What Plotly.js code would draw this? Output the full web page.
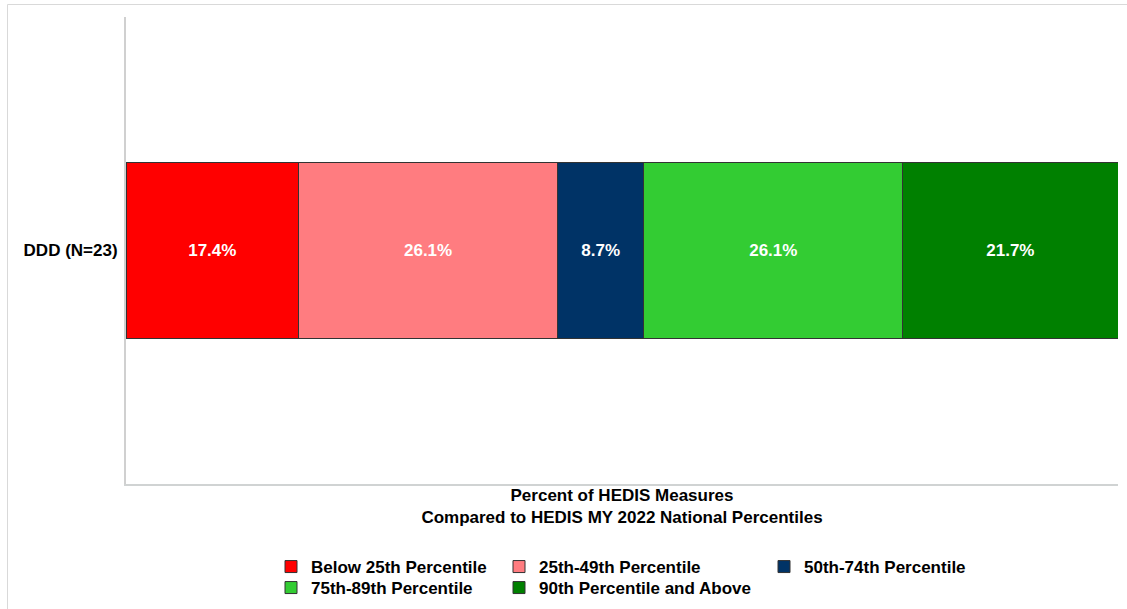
<!DOCTYPE html>
<html>
<head>
<meta charset="utf-8">
<script src="https://cdn.plot.ly/plotly-3.0.1.min.js"></script>
<style>
  html, body { margin: 0; padding: 0; background: #ffffff; }
  #chart { width: 1127px; height: 609px; }
</style>
</head>
<body>
<div id="chart"></div>
<script>
// ---- data ----
const categories = ['DDD (N=23)'];
const seriesNames = [
  'Below 25th Percentile',
  '25th-49th Percentile',
  '50th-74th Percentile',
  '75th-89th Percentile',
  '90th Percentile and Above'
];
const seriesValues = [17.4, 26.1, 8.7, 26.1, 21.7];
const seriesColors = ['#FF0000', '#FF7C80', '#003366', '#33CC33', '#008000'];
const axisTitle = 'Percent of HEDIS Measures<br>Compared to HEDIS MY 2022 National Percentiles';

// ---- layout geometry (pixels) ----
const W = 1127, H = 609;
const M = { l: 126, r: 9, t: 17, b: 125, autoexpand: false };
const plotW = W - M.l - M.r, plotH = H - M.t - M.b;
const px2x = px => (px - M.l) / plotW;
const py2y = py => (H - M.b - py) / plotH;
// legend entry anchor points (left edge x, centre y)
const legendX = [271, 499, 764, 271, 499];
const legendY = [567, 567, 567, 588, 588];

const FONT = 'Liberation Sans, Arial, sans-serif';

const traces = seriesNames.map((name, i) => ({
  type: 'bar',
  orientation: 'h',
  name: name,
  y: categories,
  x: [seriesValues[i]],
  marker: { color: seriesColors[i], line: { color: '#333333', width: 1 } },
  texttemplate: '%{x:.1f}%',
  textposition: 'inside',
  insidetextanchor: 'middle',
  textfont: { family: FONT, size: 17, color: '#ffffff', weight: 'bold' },
  constraintext: 'none',
  legend: i === 0 ? 'legend' : 'legend' + (i + 1),
  hoverinfo: 'none'
}));

const layout = {
  width: W, height: H,
  margin: M,
  paper_bgcolor: '#ffffff',
  plot_bgcolor: '#ffffff',
  barmode: 'stack',
  bargap: 0.625,
  font: { family: FONT, size: 17, color: '#000000', weight: 'bold' },
  xaxis: {
    range: [0, 100],
    showgrid: false, zeroline: false,
    showticklabels: false, ticks: '',
    showline: true, linecolor: '#d0d3d3', linewidth: 2,
    fixedrange: true,
    title: { text: axisTitle, font: { family: FONT, size: 17, color: '#000', weight: 'bold' }, standoff: 4 }
  },
  yaxis: {
    showgrid: false, zeroline: false,
    ticks: '', ticklen: 0,
    showline: true, linecolor: '#d0d0d0', linewidth: 2,
    tickfont: { family: FONT, size: 17, color: '#000', weight: 'bold' },
    ticklabelstandoff: 3,
    fixedrange: true
  },
  showlegend: true,
  shapes: [{
    type: 'rect', xref: 'paper', yref: 'paper',
    x0: px2x(7.5), x1: px2x(W + 0.5), y0: py2y(H + 0.5), y1: py2y(4.5),
    line: { color: '#d9d9d9', width: 1 }, fillcolor: 'rgba(0,0,0,0)', layer: 'below'
  }]
};

seriesNames.forEach((n, i) => {
  const key = i === 0 ? 'legend' : 'legend' + (i + 1);
  layout[key] = {
    x: px2x(legendX[i]), xanchor: 'left', xref: 'paper',
    y: py2y(legendY[i]), yanchor: 'middle', yref: 'paper',
    orientation: 'v',
    bgcolor: 'rgba(0,0,0,0)', borderwidth: 0,
    font: { family: FONT, size: 17, color: '#000', weight: 'bold' },
    itemclick: false, itemdoubleclick: false
  };
});

Plotly.newPlot('chart', traces, layout, { displayModeBar: false, staticPlot: true });
</script>
</body>
</html>
